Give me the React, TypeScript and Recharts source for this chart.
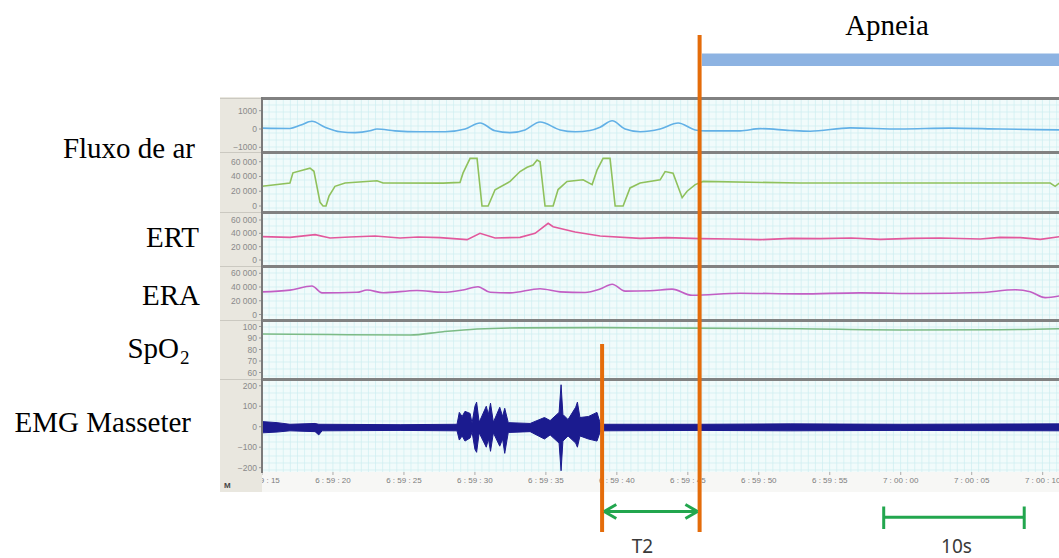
import React from 'react';
import { ComposedChart, Line, Area, XAxis, YAxis, CartesianGrid, ReferenceLine, ReferenceArea } from 'recharts';

// time in seconds from 6:59:15
const T_END = 56.15;
const X_TICKS = [0, 5, 10, 15, 20, 25, 30, 35, 40, 45, 50, 55];
const X_TICK_LABELS = ['6:59:15', '6:59:20', '6:59:25', '6:59:30', '6:59:35', '6:59:40', '6:59:45', '6:59:50', '6:59:55', '7:00:00', '7:00:05', '7:00:10'];

const FLOW_TICKS = [-1000, 0, 1000];
const FLOW_LABELS = ['\u22121000', '0', '1000'];
const BELT_TICKS = [0, 20000, 40000, 60000];
const BELT_LABELS = ['0', '20\u00a0000', '40\u00a0000', '60\u00a0000'];
const SPO2_TICKS = [60, 70, 80, 90, 100];
const SPO2_LABELS = ['60', '70', '80', '90', '100'];
const EMG_TICKS = [-200, -100, 0, 100, 200];
const EMG_LABELS = ['\u2212200', '\u2212100', '0', '100', '200'];

// [t, value]
const FLUXO: [number, number][] = [
  [0, 50], [1.97, 30], [2.68, 200], [3.52, 420], [4.44, 100], [5.5, -150], [6.55, -200], [7.61, -100],
  [8.1, 0], [9.37, -100], [11.13, -150], [12.9, -150], [14.31, 0], [15.36, 330], [16.42, -100],
  [17.48, -200], [18.53, -50], [19.59, 380], [21.0, -50], [22.06, -150], [23.11, -80], [23.82, 100],
  [24.67, 450], [25.58, 0], [26.64, -150], [28.05, 0], [29.32, 330], [30.52, -50], [31.22, -100],
  [33.69, -100], [35.1, 20], [37.21, -80], [38.62, -120], [41.44, 60], [44.96, 0], [48.48, 50],
  [52.01, 0], [56.17, -50],
];

const PRESSAO: [number, number][] = [
  [0, 26700], [1.97, 31200], [2.18, 45000], [3.38, 51200], [3.66, 47000], [4.09, 5000], [4.3, 0],
  [4.51, 0], [4.72, 13300], [5.14, 26700], [5.85, 31200], [8.1, 34200], [8.53, 31200], [12.76, 31000],
  [13.95, 32000], [14.16, 44500], [14.66, 64500], [15.15, 64500], [15.5, 0], [15.93, 0], [16.42, 22000],
  [17.48, 33300], [18.18, 46700], [18.68, 52500], [19.1, 55600], [19.38, 62300], [19.59, 60000],
  [19.94, 0], [20.51, 0], [20.86, 22300], [21.49, 33300], [22.62, 35500], [23.26, 29000], [23.61, 49000],
  [24.03, 64500], [24.52, 64500], [24.88, 0], [25.44, 0], [25.93, 24500], [26.64, 31100], [28.05, 35500],
  [28.4, 46700], [28.96, 44500], [29.6, 11200], [29.95, 20000], [30.52, 29000], [31.08, 33300],
  [37.92, 31100], [55.53, 31100], [55.88, 26700], [56.17, 31000],
];

const ERT: [number, number][] = [
  [0, 35000], [1.97, 34000], [3.74, 38000], [4.79, 33000], [6.2, 34500], [7.96, 36000], [9.73, 33000],
  [11.0, 34500], [12.54, 33500], [14.45, 30500], [15.36, 40000], [16.42, 33000], [18.18, 34000],
  [19.24, 40000], [20.16, 55000], [20.51, 50000], [22.06, 42000], [23.82, 36000], [26.64, 32500],
  [28.5, 33500], [30.87, 32000], [33.0, 31500], [35.1, 30500], [37.3, 32500], [39.32, 32000],
  [41.5, 33000], [43.55, 31000], [45.8, 32500], [47.78, 33000], [50.6, 31500], [52.0, 34000],
  [53.42, 33500], [54.83, 31000], [56.17, 35000],
];

const ERA: [number, number][] = [
  [0, 33000], [1.97, 35500], [3.52, 41500], [4.23, 31500], [6.69, 32300], [7.4, 35700], [8.53, 31700],
  [10.92, 35000], [12.76, 32300], [14.16, 35700], [15.22, 40500], [16.07, 32300], [17.48, 31500],
  [19.59, 37500], [21.0, 33000], [22.76, 32000], [23.82, 37000], [24.67, 44000], [25.58, 34000],
  [27.34, 34500], [28.89, 37000], [30.3, 28000], [33.69, 31000], [37.92, 30000], [42.14, 31500],
  [46.37, 30500], [50.6, 32000], [53.07, 36000], [54.12, 33000], [55.18, 24500], [56.17, 27000],
];

const SPO2: [number, number][] = [
  [0, 93.5], [4.79, 93], [10.43, 92.6], [12.76, 95.5], [15.15, 97.8], [18.18, 98.8], [23.82, 99],
  [30.16, 98.6], [37.92, 98], [44.96, 97], [52.01, 97.2], [56.17, 98],
];

// [t, low, high] envelope of the EMG trace
const EMG: [number, number, number][] = [
  [0, -30, 25], [1.06, -26, 20], [1.97, -20, 12], [3.74, -24, 16], [4.0, -40, 12], [4.23, -20, 12],
  [9.73, -18, 10], [13.74, -20, 12], [13.9, -65, 70], [14.1, -45, 50], [14.3, -70, 75], [14.66, -55, 65],
  [14.8, -25, 18], [15.0, -110, 100], [15.12, -125, 120], [15.3, -30, 22], [15.8, -100, 100],
  [15.95, -60, 60], [16.1, -120, 115], [16.3, -30, 22], [16.75, -95, 95], [16.95, -60, 50],
  [17.1, -130, 90], [17.35, -28, 20], [18.89, -24, 16], [19.9, -60, 45], [20.3, -40, 30],
  [20.93, -80, 70], [21.07, -215, 205], [21.2, -70, 60], [21.56, -45, 35], [22.1, -80, 95],
  [22.22, -100, 120], [22.4, -45, 45], [23.0, -60, 50], [23.6, -70, 70], [23.85, -20, 12],
  [30.87, -18, 12], [37.21, -20, 14], [44.96, -18, 12], [56.17, -20, 14],
];

// annotation times (s)
const T2_START = 23.96;
const APNEA_LINE = 30.83;
const APNEA_START = 31.0;
const BAR_10S_START = 43.8;
const BAR_10S_END = 53.7;

const ORANGE = '#e46c0a';
const GREEN = '#22a64e';

const vGrid = ({ offset }: any) => {
  const out: number[] = [];
  for (let x = offset.left; x <= offset.left + offset.width; x += 7.095) out.push(x);
  return out;
};
const hGrid = ({ offset }: any) => {
  const out: number[] = [];
  for (let y = offset.top; y <= offset.top + offset.height; y += 7) out.push(y);
  return out;
};

const toRows = (arr: [number, number][]) => arr.map(([t, v]) => ({ t, v }));

const PANELS = [
  { key: 'flow', top: 98, height: 54, rows: toRows(FLUXO), domain: [-1257, 1694], ticks: FLOW_TICKS, labels: FLOW_LABELS, color: '#62b0e6', curve: 'monotone' },
  { key: 'press', top: 152, height: 60, rows: toRows(PRESSAO), domain: [-8130, 73170], ticks: BELT_TICKS, labels: BELT_LABELS, color: '#8fc15c', curve: 'linear' },
  { key: 'ert', top: 212, height: 54, rows: toRows(ERT), domain: [-9000, 72000], ticks: BELT_TICKS, labels: BELT_LABELS, color: '#e2589c', curve: 'linear' },
  { key: 'era', top: 266, height: 54, rows: toRows(ERA), domain: [-8000, 70600], ticks: BELT_TICKS, labels: BELT_LABELS, color: '#c25ec4', curve: 'monotone' },
  { key: 'spo2', top: 320, height: 59, rows: toRows(SPO2), domain: [54.35, 105.65], ticks: SPO2_TICKS, labels: SPO2_LABELS, color: '#7cbb86', curve: 'monotone' },
];

const EMG_ROWS = EMG.map(([t, lo, hi]) => ({ t, range: [lo, hi] }));

const SEPARATORS = [98, 152, 212, 266, 320, 379];

const yAxisProps = (p: any) => ({
  type: 'number' as const,
  domain: p.domain,
  allowDataOverflow: true,
  ticks: p.ticks,
  interval: 0 as const,
  width: 42,
  axisLine: false,
  tickSize: 3,
  tickMargin: 2,
  tickLine: { stroke: '#9a9a9a' },
  tick: { fontSize: 8.5, fill: '#8a8a8a' },
  tickFormatter: (v: number) => p.labels[p.ticks.indexOf(v)] ?? '',
});

const Grid = () => (
  <CartesianGrid fill="#f1fbfb" stroke="#cdeef1" strokeWidth={0.7}
    verticalCoordinatesGenerator={vGrid} horizontalCoordinatesGenerator={hGrid} />
);

export default function App() {
  return (
    <div style={{ position: 'absolute', left: 0, top: 0, width: 1059, height: 558, background: '#fff', overflow: 'hidden', fontFamily: '"Liberation Sans", Arial, sans-serif' }}>
      <div style={{ position: 'absolute', left: 220, top: 97, width: 42, height: 395, background: '#e9e7df' }} />
      <div style={{ position: 'absolute', left: 262, top: 472, width: 797, height: 20, background: '#f7f7f5' }} />

      {PANELS.map((p) => (
        <div key={p.key} style={{ position: 'absolute', left: 220, top: p.top }}>
          <ComposedChart width={839} height={p.height} data={p.rows} margin={{ top: 0, right: 0, bottom: 0, left: 0 }}>
            <Grid />
            <XAxis dataKey="t" type="number" domain={[0, T_END]} allowDataOverflow hide />
            <YAxis {...yAxisProps(p)} />
            <Line dataKey="v" type={p.curve as any} stroke={p.color} strokeWidth={1.6} dot={false} activeDot={false} isAnimationActive={false} />
          </ComposedChart>
        </div>
      ))}

      <div style={{ position: 'absolute', left: 220, top: 379 }}>
        <ComposedChart width={839} height={113} data={EMG_ROWS} margin={{ top: 0, right: 0, bottom: 0, left: 0 }}>
          <Grid />
          <XAxis dataKey="t" type="number" domain={[0, T_END]} allowDataOverflow ticks={X_TICKS} interval={0}
            height={20} axisLine={false} tickSize={3} tickMargin={2} tickLine={{ stroke: '#aaa' }}
            tick={{ fontSize: 8, fill: '#7d7d7d' }}
            tickFormatter={(v: number) => (X_TICK_LABELS[X_TICKS.indexOf(v)] ?? '').replace(/:/g, '\u00a0:\u00a0')} />
          <YAxis {...yAxisProps({ domain: [-221, 233], ticks: EMG_TICKS, labels: EMG_LABELS })} />
          <Area dataKey="range" type="linear" stroke="#1b1b8f" strokeWidth={1} fill="#1b1b8f" fillOpacity={1} dot={false} activeDot={false} isAnimationActive={false} />
        </ComposedChart>
      </div>

      {SEPARATORS.map((y) => (
        <React.Fragment key={y}>
          <div style={{ position: 'absolute', left: 262, top: y - 1.5, width: 797, height: 3, background: '#818181' }} />
          <div style={{ position: 'absolute', left: 220, top: y - 0.5, width: 42, height: 1, background: '#cbc9c1' }} />
        </React.Fragment>
      ))}
      <div style={{ position: 'absolute', left: 261, top: 97, width: 2, height: 376, background: '#7a7a7a' }} />
      <div style={{ position: 'absolute', left: 220, top: 473, width: 42, height: 19, background: '#e9e7df' }} />

      <div style={{ position: 'absolute', left: 0, top: 0 }}>
        <ComposedChart width={1059} height={558} data={[{ t: T2_START }, { t: APNEA_LINE }]} margin={{ top: 0, right: 0, bottom: 0, left: 262 }}>
          <XAxis dataKey="t" type="number" domain={[0, T_END]} allowDataOverflow hide />
          <YAxis type="number" domain={[0, 558]} reversed allowDataOverflow hide />
          <ReferenceArea x1={APNEA_START} x2={T_END} y1={53.5} y2={66} fill="#8db3e2" fillOpacity={1} stroke="none" ifOverflow="visible" />
          <ReferenceLine segment={[{ x: APNEA_LINE, y: 35 }, { x: APNEA_LINE, y: 532 }]} stroke={ORANGE} strokeWidth={4} ifOverflow="visible" />
          <ReferenceLine segment={[{ x: T2_START, y: 344 }, { x: T2_START, y: 532 }]} stroke={ORANGE} strokeWidth={4} ifOverflow="visible" />
          {/* T2 double arrow */}
          <ReferenceLine segment={[{ x: T2_START + 0.15, y: 511.5 }, { x: APNEA_LINE - 0.15, y: 511.5 }]} stroke={GREEN} strokeWidth={3} ifOverflow="visible" />
          <ReferenceLine segment={[{ x: T2_START + 0.15, y: 511.5 }, { x: T2_START + 1.0, y: 504.5 }]} stroke={GREEN} strokeWidth={3} ifOverflow="visible" />
          <ReferenceLine segment={[{ x: T2_START + 0.15, y: 511.5 }, { x: T2_START + 1.0, y: 518.5 }]} stroke={GREEN} strokeWidth={3} ifOverflow="visible" />
          <ReferenceLine segment={[{ x: APNEA_LINE - 0.15, y: 511.5 }, { x: APNEA_LINE - 1.0, y: 504.5 }]} stroke={GREEN} strokeWidth={3} ifOverflow="visible" />
          <ReferenceLine segment={[{ x: APNEA_LINE - 0.15, y: 511.5 }, { x: APNEA_LINE - 1.0, y: 518.5 }]} stroke={GREEN} strokeWidth={3} ifOverflow="visible" />
          {/* 10 s scale bar */}
          <ReferenceLine segment={[{ x: BAR_10S_START, y: 517.3 }, { x: BAR_10S_END, y: 517.3 }]} stroke={GREEN} strokeWidth={3} ifOverflow="visible" />
          <ReferenceLine segment={[{ x: BAR_10S_START, y: 506.5 }, { x: BAR_10S_START, y: 529 }]} stroke={GREEN} strokeWidth={3} ifOverflow="visible" />
          <ReferenceLine segment={[{ x: BAR_10S_END, y: 506.5 }, { x: BAR_10S_END, y: 529 }]} stroke={GREEN} strokeWidth={3} ifOverflow="visible" />
        </ComposedChart>
      </div>

      <svg width={1059} height={558} style={{ position: 'absolute', left: 0, top: 0, pointerEvents: 'none' }}>
        <g fontFamily='"Liberation Serif", "Times New Roman", serif' fontSize={29} fill="#000">
          <text x={887} y={34.5} textAnchor="middle">Apneia</text>
          <text x={195} y={158} textAnchor="end">Fluxo de ar</text>
          <text x={199} y={246.5} textAnchor="end">ERT</text>
          <text x={200} y={305} textAnchor="end">ERA</text>
          <text x={179} y={358} textAnchor="end">SpO</text>
          <text x={180} y={364} fontSize={19}>2</text>
          <text x={191} y={431.5} textAnchor="end">EMG Masseter</text>
        </g>
        <g fontFamily='"Noto Sans", "Liberation Sans", sans-serif' fontSize={19} fill="#3a3a3a" textAnchor="middle">
          <text x={642.5} y={552.5}>T2</text>
          <text x={956.5} y={552.5}>10s</text>
        </g>
        <text x={224} y={488} fontSize={8} fontWeight="bold" fill="#444" fontFamily='"Liberation Sans", Arial, sans-serif'>M</text>
      </svg>
    </div>
  );
}
